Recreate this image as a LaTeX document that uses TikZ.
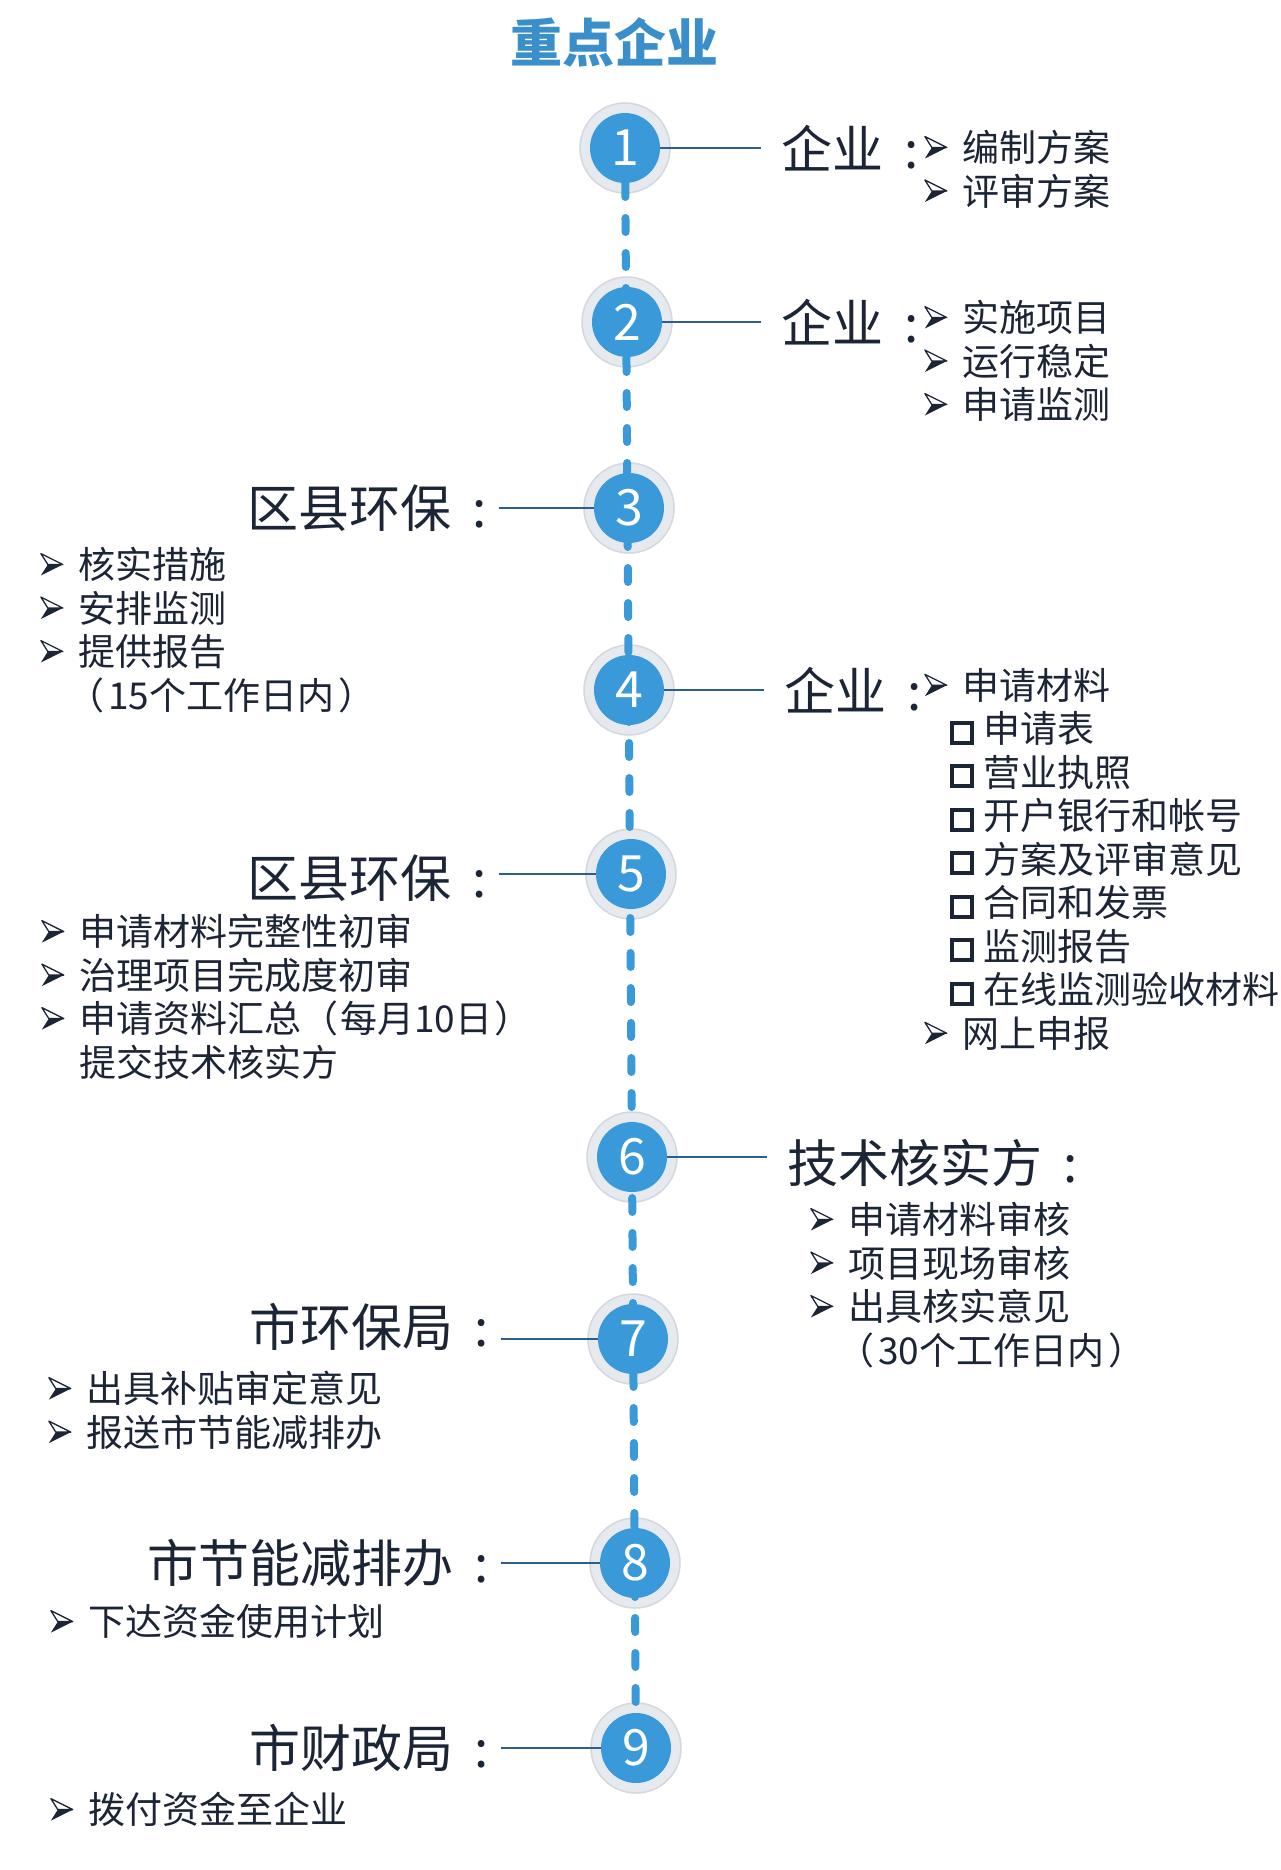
\documentclass[tikz,border=0pt]{standalone}
\usepackage{fontspec}
\setmainfont{Noto Sans CJK SC}
\usetikzlibrary{positioning}

\definecolor{stepblue}{HTML}{3A9AD9}
\definecolor{titleblue}{HTML}{3A8FCB}
\definecolor{linkblue}{HTML}{2B5F8E}
\definecolor{ink}{HTML}{1C2536}
\definecolor{halogray}{HTML}{E6E9ED}
\definecolor{haloedge}{HTML}{D3D8DE}

% arrowhead bullet, upper half outlined, lower half filled
\newcommand{\arr}{\makebox[38pt][l]{\tikz[baseline=-3pt, line join=round]{
  \fill[ink] (0pt,0pt) -- (22pt,11pt) -- (7pt,11pt) -- cycle;
  \draw[ink, line width=1.3pt] (0pt,22pt) -- (22pt,11pt) -- (7pt,11pt) -- cycle;}}}
\newcommand{\sq}{\hspace{26pt}\makebox[33pt][l]{\raisebox{2pt}{\setlength{\fboxsep}{0pt}\setlength{\fboxrule}{4pt}\fbox{\rule{0pt}{16pt}\hspace{16pt}}}}}
\newcommand{\ind}{\hspace{38pt}}
\newcommand{\lbcolon}{\hspace{0.42em}:}

\tikzset{
  halo/.style={circle, minimum size=90pt, inner sep=0pt, fill=halogray, draw=haloedge, line width=1.5pt},
  stepnum/.style={circle, minimum size=70pt, inner sep=0pt, fill=stepblue,
    text=white, font=\fontsize{50}{50}\selectfont},
  trail/.style={stepblue, line width=8pt, line cap=round, dash pattern=on 14pt off 21pt},
  link/.style={linkblue, line width=2.5pt},
  who/.style={inner sep=0pt, text=ink, font=\fontsize{51}{51}\selectfont},
  todo/.style={inner sep=0pt, text=ink, align=left, anchor=north west,
    font=\fontsize{37}{43.5}\selectfont},
}

\begin{document}
\begin{tikzpicture}[x=1pt, y=-1pt]
  \useasboundingbox[fill=white] (0,0) rectangle (1280,1870);

  \node[font=\bfseries\fontsize{52}{52}\selectfont, text=titleblue, inner sep=0pt] (title) at (614,42) {重点企业};

  % timeline
  \foreach \n/\x/\y in {1/625/148, 2/627/322, 3/629/508, 4/629/690, 5/631/874,
                        6/632/1157, 7/633/1339, 8/635/1563, 9/636/1748}
    \node[halo] (h\n) at (\x,\y) {};
  \draw[trail] (h1.center) -- (h9.center);
  \foreach \n/\x/\y in {1/625/148, 2/627/322, 3/629/508, 4/629/690, 5/631/874,
                        6/632/1157, 7/633/1339, 8/635/1563, 9/636/1748}
    \node[stepnum] (s\n) at (\x,\y) {\n};

  % who does it
  \node[who, anchor=west] (lab1) at (781,148) {企业\lbcolon};
  \node[who, anchor=west] (lab2) at (781,322) {企业\lbcolon};
  \node[who, anchor=east] (lab3) at (487,508) {区县环保\lbcolon};
  \node[who, anchor=west] (lab4) at (784,690) {企业\lbcolon};
  \node[who, anchor=east] (lab5) at (487,878) {区县环保\lbcolon};
  \node[who, anchor=west] (lab6) at (787,1163) {技术核实方\lbcolon};
  \node[who, anchor=east] (lab7) at (489,1327) {市环保局\lbcolon};
  \node[who, anchor=east] (lab8) at (489,1563) {市节能减排办\lbcolon};
  \node[who, anchor=east] (lab9) at (489,1748) {市财政局\lbcolon};

  \foreach \n in {1,2,4,6}
    \draw[link, shorten >=20pt] (s\n.east) -- (lab\n.west |- s\n.east);
  \foreach \n in {3,5,7,8,9}
    \draw[link, shorten <=12pt] (lab\n.east |- s\n.west) -- (s\n.west);

  % what they do
  \node[todo] (do1) at (924,130) {\arr 编制方案\\\arr 评审方案};
  \node[todo] (do2) at (924,300) {\arr 实施项目\\\arr 运行稳定\\\arr 申请监测};
  \node[todo] (do3) at (40,547) {\arr 核实措施\\\arr 安排监测\\\arr 提供报告\\
    \hspace{27pt}（\hspace{4pt}15个工作日内\hspace{4pt}）};
  \node[todo] (do4) at (924,668) {\arr 申请材料\\\sq 申请表\\\sq 营业执照\\\sq 开户银行和帐号\\
    \sq 方案及评审意见\\\sq 合同和发票\\\sq 监测报告\\\sq 在线监测验收材料\\\arr 网上申报};
  \node[todo] (do5) at (41,914) {\arr 申请材料完整性初审\\\arr 治理项目完成度初审\\
    \arr 申请资料汇总（\hspace{2pt}每月10日\hspace{2pt}）\\\ind 提交技术核实方};
  \node[todo] (do6) at (810,1202) {\arr 申请材料审核\\\arr 项目现场审核\\\arr 出具核实意见\\
    \hspace{27pt}（\hspace{4pt}30个工作日内\hspace{4pt}）};
  \node[todo] (do7) at (48,1371) {\arr 出具补贴审定意见\\\arr 报送市节能减排办};
  \node[todo] (do8) at (50,1604) {\arr 下达资金使用计划};
  \node[todo] (do9) at (50,1792) {\arr 拨付资金至企业};
\end{tikzpicture}
\end{document}
